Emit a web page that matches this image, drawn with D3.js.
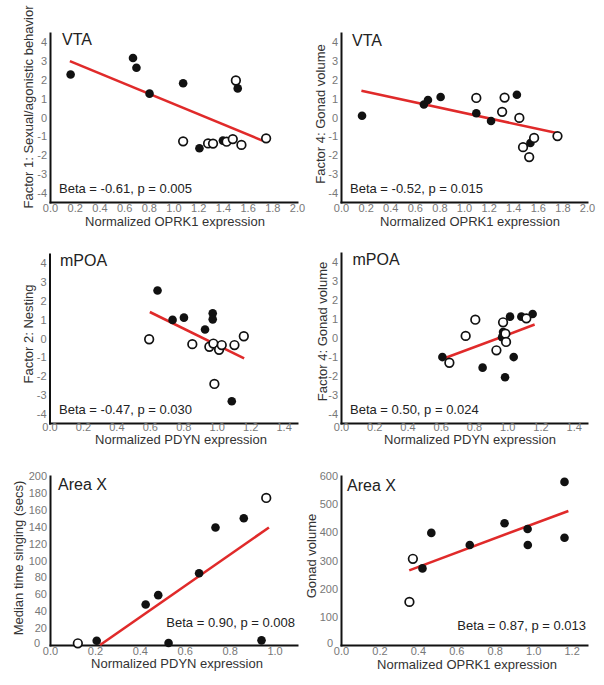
<!DOCTYPE html>
<html><head><meta charset="utf-8">
<script src="https://cdn.jsdelivr.net/npm/d3@7"></script>
<style>
body{margin:0;background:#fff}
svg{display:block}
text{font-family:Arial,"Liberation Sans",sans-serif}
</style>
</head><body>
<svg id="c" width="604" height="685"></svg>
<script>
// ---------------- data ----------------
// Panel A: VTA, OPRK1 vs Factor 1
const vtaF1Filled = [[0.167,2.29],[0.672,3.17],[0.70,2.65],[0.806,1.27],[1.078,1.82],[1.52,1.55],[1.21,-1.64],[1.40,-1.23]];
const vtaF1Open   = [[1.505,1.97],[1.078,-1.27],[1.28,-1.38],[1.32,-1.39],[1.43,-1.29],[1.48,-1.15],[1.55,-1.46],[1.75,-1.11]];
const vtaF1Fit    = [[0.161,3.0],[1.72,-1.23]];
// Panel B: VTA, OPRK1 vs Factor 4
const vtaF4Filled = [[0.171,0.09],[0.674,0.69],[0.707,0.93],[0.81,1.09],[1.10,0.23],[1.22,-0.19],[1.43,1.21],[1.54,-1.36]];
const vtaF4Open   = [[1.10,1.04],[1.33,1.06],[1.31,0.30],[1.45,-0.02],[1.48,-1.58],[1.57,-1.09],[1.53,-2.11],[1.76,-0.99]];
const vtaF4Fit    = [[0.166,1.43],[1.755,-0.83]];
// Panel C: mPOA, PDYN vs Factor 2
const mpoaF2Filled = [[0.646,2.56],[0.736,0.99],[0.804,1.11],[0.93,0.48],[0.976,1.34],[0.976,1.02],[1.09,-3.34]];
const mpoaF2Open   = [[0.596,-0.04],[0.854,-0.30],[0.956,-0.44],[0.98,-0.27],[1.014,-0.60],[1.03,-0.35],[1.106,-0.35],[1.162,0.12],[0.986,-2.42]];
const mpoaF2Fit    = [[0.60,1.41],[1.164,-1.06]];
// Panel D: mPOA, PDYN vs Factor 4
const mpoaF4Filled = [[0.61,-1.01],[0.852,-1.57],[0.969,0.04],[0.975,0.32],[1.017,1.13],[1.039,-1.01],[0.987,-2.08],[1.085,1.13],[1.153,1.27]];
const mpoaF4Open   = [[0.652,-1.31],[0.75,0.11],[0.808,0.97],[0.935,-0.65],[0.975,0.83],[0.989,0.23],[0.993,-0.21],[1.115,1.04]];
const mpoaF4Fit    = [[0.614,-1.10],[1.165,0.71]];
// Panel E: Area X, PDYN vs median time singing
const areaXSingFilled = [[0.208,5],[0.426,48],[0.482,59],[0.528,2.4],[0.664,85],[0.737,139],[0.863,150],[0.942,5.5]];
const areaXSingOpen   = [[0.124,2],[0.963,174]];
const areaXSingFit    = [[0.223,0],[0.975,139]];
// Panel F: Area X, OPRK1 vs gonad volume
const areaXGonFilled = [[0.424,272],[0.47,398],[0.67,355],[0.851,432],[0.971,412],[0.972,355],[1.163,579],[1.163,381]];
const areaXGonOpen   = [[0.356,153],[0.374,306]];
const areaXGonFit    = [[0.355,265],[1.183,476]];

// tick labels
const xTicks2   = [0,0.2,0.4,0.6,0.8,1.0,1.2,1.4,1.6,1.8,2.0];
const xTicks14  = [0,0.2,0.4,0.6,0.8,1.0,1.2,1.4];
const xTicks10  = [0,0.2,0.4,0.6,0.8,1.0];
const xTicks12  = [0,0.2,0.4,0.6,0.8,1.0,1.2];
const yTicksF   = [-4,-3,-2,-1,0,1,2,3,4];
const yTicksSing = [0,20,40,60,80,100,120,140,160,180,200];
const yTicksGon  = [0,100,200,300,400,500,600];

// text
const regionNames = ["VTA","VTA","mPOA","mPOA","Area X","Area X"];
const yTitles = ["Factor 1: Sexual/agonistic behavior","Factor 4: Gonad volume","Factor 2: Nesting","Factor 4: Gonad volume","Median time singing (secs)","Gonad volume"];
const xTitles = ["Normalized OPRK1 expression","Normalized OPRK1 expression","Normalized PDYN expression","Normalized PDYN expression","Normalized PDYN expression","Normalized OPRK1 expression"];
const statLabels = ["Beta = -0.61, p = 0.005","Beta = -0.52, p = 0.015","Beta = -0.47, p = 0.030","Beta = 0.50, p = 0.024","Beta = 0.90, p = 0.008","Beta = 0.87, p = 0.013"];

// ---------------- layout ----------------
const panels = [
  {filled:vtaF1Filled, open:vtaF1Open, fit:vtaF1Fit, xd:[0,2], yd:[-4.5,4.5], xr:[50,297], yr:[202,33], xt:xTicks2, yt:yTicksF, xdig:1, xpad:2, zeroShift:0,
   name:[62,45], stat:[59,193,"start"], ytl:[28,107], xtl:[175,226]},
  {filled:vtaF4Filled, open:vtaF4Open, fit:vtaF4Fit, xd:[0,2], yd:[-4.5,4.5], xr:[341,587], yr:[202,33], xt:xTicks2, yt:yTicksF, xdig:1, xpad:2, zeroShift:0,
   name:[352,46], stat:[350,193,"start"], ytl:[320,114], xtl:[470,226]},
  {filled:mpoaF2Filled, open:mpoaF2Open, fit:mpoaF2Fit, xd:[0,1.48], yd:[-4.5,4.5], xr:[49.5,297], yr:[423,254], xt:xTicks14, yt:yTicksF, xdig:1, xpad:0, zeroShift:0,
   name:[60,265.5], stat:[59,414,"start"], ytl:[28,334], xtl:[181,444]},
  {filled:mpoaF4Filled, open:mpoaF4Open, fit:mpoaF4Fit, xd:[0,1.48], yd:[-4.5,4.5], xr:[341,587], yr:[423,253], xt:xTicks14, yt:yTicksF, xdig:1, xpad:0, zeroShift:0,
   name:[352.5,265], stat:[350,413.5,"start"], ytl:[322,331.5], xtl:[470,444]},
  {filled:areaXSingFilled, open:areaXSingOpen, fit:areaXSingFit, xd:[0,1.1], yd:[0,200], xr:[50,297], yr:[645,476], xt:xTicks10, yt:yTicksSing, xdig:1, xpad:2, zeroShift:7,
   name:[58,490], stat:[295,627,"end"], ytl:[18,558], xtl:[177,668]},
  {filled:areaXGonFilled, open:areaXGonOpen, fit:areaXGonFit, xd:[0,1.28], yd:[0,600], xr:[341,587], yr:[645,476], xt:xTicks12, yt:yTicksGon, xdig:1, xpad:2, zeroShift:5,
   name:[347,490.5], stat:[586,630,"end"], ytl:[311.5,556], xtl:[467,668.5]}
];

const svg = d3.select("#c");
const FONT = 'Arial,"Liberation Sans",sans-serif';
const R = 4.3;

panels.forEach((p, i) => {
  const x = d3.scaleLinear().domain(p.xd).range(p.xr);
  const y = d3.scaleLinear().domain(p.yd).range(p.yr);
  const g = svg.append("g");

  // axes
  const gx = g.append("g").attr("transform", `translate(0,${p.yr[0]})`)
    .call(d3.axisBottom(x).tickValues(p.xt).tickFormat(d => d.toFixed(p.xdig)).tickSize(0).tickPadding(p.xpad));
  const gy = g.append("g").attr("transform", `translate(${p.xr[0]},0)`)
    .call(d3.axisLeft(y).tickValues(p.yt).tickFormat(d => String(d)).tickSize(0).tickPadding(3));
  [gx, gy].forEach(a => {
    a.attr("font-family", FONT).attr("font-size", 11);
    a.select(".domain").attr("stroke", "#111").attr("stroke-width", 2).attr("stroke-linecap", "square");
    a.selectAll(".tick text").attr("fill", "#777");
  });
  if (p.zeroShift) {
    gy.selectAll(".tick text").filter(d => d === 0)
      .attr("x", -3 - p.zeroShift).attr("dy", "0.1em");
  }

  // regression line
  g.append("line")
    .attr("x1", x(p.fit[0][0])).attr("y1", y(p.fit[0][1]))
    .attr("x2", x(p.fit[1][0])).attr("y2", y(p.fit[1][1]))
    .attr("stroke", "#e02a2a").attr("stroke-width", 2.6);

  // points
  g.selectAll(".f").data(p.filled).join("circle")
    .attr("cx", d => x(d[0])).attr("cy", d => y(d[1])).attr("r", R)
    .attr("fill", "#111");
  g.selectAll(".o").data(p.open).join("circle")
    .attr("cx", d => x(d[0])).attr("cy", d => y(d[1])).attr("r", R)
    .attr("fill", "#fff").attr("stroke", "#111").attr("stroke-width", 1.7);

  // region name
  g.append("text").attr("x", p.name[0]).attr("y", p.name[1])
    .attr("font-size", 16).attr("fill", "#222").text(regionNames[i]);
  // stats
  g.append("text").attr("x", p.stat[0]).attr("y", p.stat[1]).attr("text-anchor", p.stat[2])
    .attr("font-size", 13).attr("fill", "#222").text(statLabels[i]);
  // y title
  g.append("text").attr("transform", `translate(${p.ytl[0]},${p.ytl[1]}) rotate(-90)`)
    .attr("text-anchor", "middle").attr("dy", "0.35em")
    .attr("font-size", 13).attr("fill", "#333").text(yTitles[i]);
  // x title
  g.append("text").attr("x", p.xtl[0]).attr("y", p.xtl[1]).attr("text-anchor", "middle")
    .attr("font-size", 13).attr("fill", "#333").text(xTitles[i]);
});
</script>
</body></html>
